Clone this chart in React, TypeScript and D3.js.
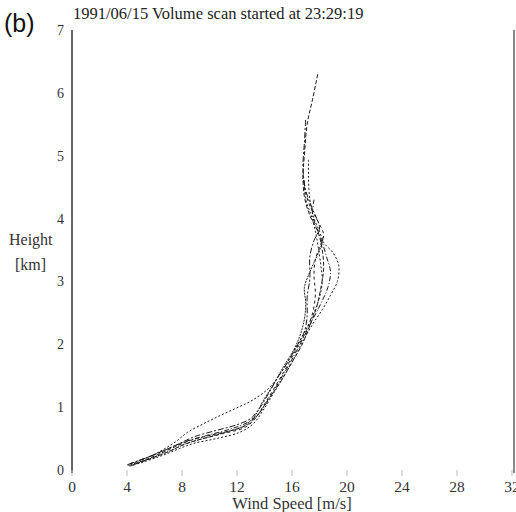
import React from "react";
import * as d3 from "d3";

const xTicks = [0, 4, 8, 12, 16, 20, 24, 28, 32];
const yTicks = [0, 1, 2, 3, 4, 5, 6, 7];
const titleText = "1991/06/15  Volume scan started at 23:29:19";

// [wind speed m/s, height km]
const profile1: [number, number][] = [[4.1,0.07],[5.3,0.16],[6.5,0.27],[7.5,0.37],[8.6,0.47],[10.2,0.56],[11.8,0.64],[12.9,0.74],[13.6,0.9],[14.2,1.1],[15.1,1.38],[15.9,1.68],[16.7,1.98],[17.3,2.3],[17.8,2.6],[18.1,2.9],[18.3,3.2],[18.2,3.5],[17.9,3.78],[17.3,4.05],[16.9,4.35],[16.8,4.7],[16.9,5.0],[17.1,5.5],[17.5,5.9],[17.9,6.33]];
const profile2: [number, number][] = [[4.2,0.06],[5.5,0.15],[6.8,0.25],[7.8,0.34],[8.8,0.42],[10.5,0.5],[12.2,0.6],[13.2,0.74],[13.9,0.95],[14.6,1.2],[15.3,1.45],[16.1,1.75],[16.8,2.05],[17.5,2.32],[18.2,2.55],[18.8,2.78],[19.3,3.0],[19.4,3.25],[19.0,3.45],[18.3,3.62],[18.0,3.8],[17.6,4.0],[17.3,4.3],[17.2,4.65],[17.2,4.95]];
const profile3: [number, number][] = [[4.0,0.08],[5.4,0.19],[6.6,0.32],[7.6,0.46],[8.4,0.6],[9.6,0.74],[10.8,0.87],[12.0,0.99],[13.2,1.12],[14.4,1.32],[15.3,1.58],[16.1,1.88],[16.8,2.15],[17.5,2.45],[18.0,2.75],[18.2,3.0],[18.1,3.25],[17.9,3.55],[17.7,3.8],[17.4,4.05],[17.0,4.3],[16.9,4.6]];
const profile4: [number, number][] = [[4.1,0.09],[5.6,0.21],[6.9,0.33],[7.9,0.43],[8.9,0.53],[10.5,0.63],[12.0,0.72],[13.0,0.82],[13.6,0.97],[14.2,1.18],[14.9,1.45],[15.7,1.72],[16.3,1.95],[16.9,2.2],[17.1,2.45],[17.1,2.75],[17.3,3.05],[17.3,3.4],[17.6,3.65],[18.0,3.85],[17.8,4.0],[17.4,4.2],[17.0,4.45],[16.8,4.8],[16.9,5.2],[17.0,5.6]];
const profile5: [number, number][] = [[4.3,0.07],[5.6,0.17],[7.0,0.29],[8.1,0.4],[9.2,0.48],[11.0,0.58],[12.6,0.68],[13.4,0.84],[14.0,1.05],[14.7,1.3],[15.5,1.6],[16.3,1.92],[17.0,2.2],[17.5,2.5],[17.7,2.8],[17.6,3.1],[17.7,3.35],[18.1,3.6],[18.3,3.75],[17.9,3.95],[17.3,4.2],[16.9,4.5],[16.8,4.75]];
const profile6: [number, number][] = [[4.2,0.1],[5.7,0.22],[7.1,0.35],[8.2,0.45],[9.8,0.55],[11.5,0.65],[12.8,0.76],[13.6,0.9],[14.3,1.12],[15.1,1.42],[15.9,1.72],[16.7,2.05],[17.4,2.35],[18.1,2.65],[18.6,2.9],[18.8,3.15],[18.5,3.4],[18.2,3.62],[17.8,3.85],[17.5,4.05],[17.6,4.3]];
const profile7: [number, number][] = [[4.4,0.08],[5.8,0.19],[7.2,0.31],[8.3,0.42],[9.9,0.52],[11.3,0.61],[12.5,0.7],[13.3,0.86],[13.9,1.1],[14.7,1.38],[15.4,1.65],[16.1,1.9],[16.6,2.15],[16.9,2.4],[17.0,2.65],[16.9,2.9],[17.2,3.1],[17.6,3.3],[18.1,3.55],[18.3,3.72]];

const profiles = [profile1, profile2, profile3, profile4, profile5, profile6, profile7];
const dashes = ["4,2", "2,2", "2,2", "6,2,2,2", "3,3", "5,2,1,2", "2,1"];

export default function App() {
  const x = d3.scaleLinear().domain([0, 32]).range([72, 512]);
  const y = d3.scaleLinear().domain([0, 7]).range([470, 30]);
  const line = d3
    .line<[number, number]>()
    .x((d) => x(d[0]))
    .y((d) => y(d[1]))
    .curve(d3.curveCatmullRom);
  const serif = "'Liberation Serif', 'DejaVu Serif', serif";
  return (
    <svg
      width={516}
      height={512}
      style={{ position: "absolute", left: 0, top: 0, background: "#fff" }}
    >
      <text x={4} y={32} fontFamily="'Liberation Sans', Arial, sans-serif" fontSize={25} fill="#111">(b)</text>
      <text x={73} y={19} fontFamily={serif} fontSize={16.5} fill="#222">{titleText}</text>
      {/* axes */}
      <line x1={72} x2={72} y1={30} y2={473} stroke="#666" strokeWidth={2} />
      <line x1={514} x2={514} y1={30} y2={473} stroke="#888" strokeWidth={2} />
      {xTicks.map((t) => (
        <g key={"x" + t}>
          <line x1={x(t)} x2={x(t)} y1={470} y2={476} stroke="#bbb" strokeWidth={1} />
          <text x={x(t)} y={492} textAnchor="middle" fontFamily={serif} fontSize={15.5} fill="#333">{t}</text>
        </g>
      ))}
      {yTicks.map((t) => (
        <text key={"y" + t} x={64} y={y(t) + 5} textAnchor="end" fontFamily={serif} fontSize={14} fill="#333">{t}</text>
      ))}
      <text x={9} y={245} fontFamily={serif} fontSize={16} fill="#333">Height</text>
      <text x={15} y={270} fontFamily={serif} fontSize={16} fill="#333">[km]</text>
      <text x={292} y={509} textAnchor="middle" fontFamily={serif} fontSize={16.5} fill="#333">Wind Speed [m/s]</text>
      {profiles.map((p, i) => (
        <path
          key={"p" + i}
          d={line(p) || ""}
          fill="none"
          stroke="#1a1a1a"
          strokeWidth={1}
          strokeDasharray={dashes[i]}
        />
      ))}
    </svg>
  );
}
